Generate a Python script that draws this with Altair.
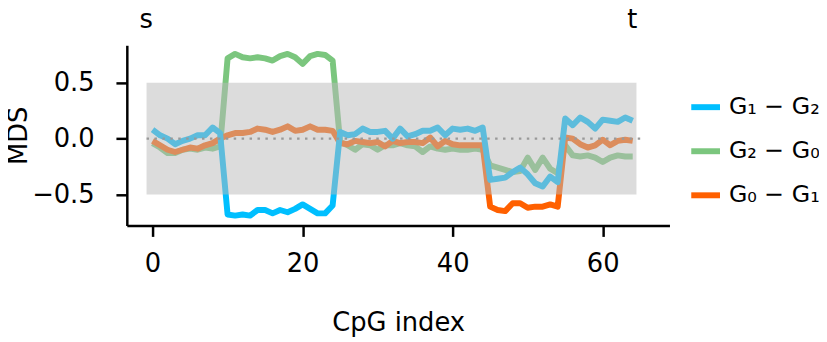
import altair as alt
import pandas as pd

cpg_index = list(range(65))

g1_g2 = [0.08, 0.03, 0.00, -0.05, -0.02, 0.00, 0.03, 0.03, 0.10, 0.05,
         -0.68, -0.69, -0.68, -0.69, -0.64, -0.64, -0.67, -0.64, -0.66, -0.63,
         -0.59, -0.63, -0.67, -0.67, -0.60,
         0.06, 0.03, 0.04, 0.09, 0.06, 0.06, 0.07, 0.00, 0.09, 0.02,
         0.04, 0.07, 0.07, 0.10, 0.03, 0.09, 0.08, 0.09, 0.07, 0.10,
         -0.37, -0.36, -0.35, -0.30, -0.26, -0.32, -0.40, -0.43, -0.34, -0.39,
         0.18, 0.12, 0.19, 0.15, 0.09, 0.17, 0.16, 0.15, 0.19, 0.16]

g2_g0 = [-0.04, -0.08, -0.13, -0.13, -0.10, -0.09, -0.10, -0.08, -0.09, -0.07,
         0.72, 0.76, 0.73, 0.72, 0.73, 0.72, 0.70, 0.74, 0.76, 0.73,
         0.67, 0.74, 0.76, 0.75, 0.70,
         -0.03, -0.06, -0.10, -0.05, -0.06, -0.10, -0.06, -0.06, -0.04, -0.06,
         -0.07, -0.12, -0.07, -0.09, -0.10, -0.09, -0.10, -0.10, -0.09, -0.10,
         -0.24, -0.26, -0.28, -0.30, -0.29, -0.17, -0.28, -0.17, -0.27, -0.31,
         -0.06, -0.15, -0.16, -0.15, -0.17, -0.21, -0.17, -0.15, -0.16, -0.16]

g0_g1 = [-0.02, -0.06, -0.10, -0.12, -0.10, -0.08, -0.09, -0.06, -0.04, 0.00,
         0.03, 0.05, 0.05, 0.06, 0.09, 0.08, 0.06, 0.08, 0.11, 0.07,
         0.08, 0.11, 0.08, 0.08, 0.07,
         -0.04, -0.05, -0.02, -0.03, -0.04, -0.03, -0.07, -0.02, -0.04, -0.03,
         -0.03, -0.04, 0.01, -0.07, -0.02, -0.05, -0.06, -0.06, -0.06, -0.06,
         -0.61, -0.64, -0.65, -0.58, -0.58, -0.62, -0.61, -0.61, -0.59, -0.61,
         0.01, 0.00, -0.05, -0.08, -0.06, -0.01, -0.06, -0.02, -0.01, -0.02]

series_names = ["G\u2081 \u2212 G\u2082", "G\u2082 \u2212 G\u2080", "G\u2080 \u2212 G\u2081"]
series_colors = ["#00BFFF", "#7BC67E", "#FF6000"]
draw_order = [1, 2, 0]

band_y = [-0.5, 0.5]
band_x = [-0.8, 64.5]
zero_line_x = [-0.8, 65.0]
x_ticks = [0, 20, 40, 60]
y_ticks = [-0.5, 0.0, 0.5]
end_labels = ["s", "t"]
end_label_x = [-0.85, 63.95]

FONT = "DejaVu Sans"

rows = []
for name, vals in zip(series_names, [g1_g2, g2_g0, g0_g1]):
    for i, v in zip(cpg_index, vals):
        rows.append({"CpG": i, "MDS": v, "pair": name})
df = pd.DataFrame(rows)

x_scale = alt.Scale(domain=[-3.43, 68.9], nice=False, zero=False)
y_scale = alt.Scale(domain=[-0.779, 0.837], nice=False, zero=False)
color_scale = alt.Scale(domain=series_names, range=series_colors)

x_axis = alt.Axis(values=x_ticks, format="d", title="CpG index", grid=False,
                  labelFont=FONT, labelFontSize=26, labelColor="black",
                  titleFont=FONT, titleFontSize=26, titleFontWeight="normal",
                  titleColor="black", titlePadding=34,
                  tickSize=11, tickWidth=2.5, tickColor="black",
                  domainWidth=2.5, domainColor="black", labelPadding=14)
y_axis = alt.Axis(values=y_ticks, format=".1f", title="MDS", grid=False,
                  labelFont=FONT, labelFontSize=26, labelColor="black",
                  titleFont=FONT, titleFontSize=26, titleFontWeight="normal",
                  titleColor="black", titlePadding=0,
                  tickSize=11, tickWidth=2.5, tickColor="black",
                  domainWidth=2.5, domainColor="black", labelPadding=22)
legend = alt.Legend(title=None, orient="none", legendX=567, legendY=45,
                    symbolType="stroke", symbolSize=841, symbolStrokeWidth=6,
                    labelFont=FONT, labelFontSize=24, labelColor="black",
                    labelOffset=6, rowPadding=14.5, padding=0, symbolOpacity=1)

X = alt.X("CpG:Q", scale=x_scale, axis=x_axis)
Y = alt.Y("MDS:Q", scale=y_scale, axis=y_axis)

layers = []
for k in draw_order:
    name = series_names[k]
    layers.append(
        alt.Chart(df).transform_filter(alt.datum.pair == name)
        .mark_line(strokeWidth=6, strokeJoin="round", strokeCap="butt")
        .encode(
            x=X, y=Y,
            color=alt.Color("pair:N", scale=color_scale, legend=legend),
        )
    )

band_df = pd.DataFrame({"CpG": [band_x[0]], "CpG2": [band_x[1]],
                        "MDS": [band_y[0]], "MDS2": [band_y[1]]})
band = alt.Chart(band_df).mark_rect(color="#b9b9b9", opacity=0.5).encode(
    x=X, x2="CpG2:Q", y=Y, y2="MDS2:Q")

zero_df = pd.DataFrame({"CpG": [zero_line_x[0]], "CpG2": [zero_line_x[1]], "MDS": [0.0]})
zero_rule = alt.Chart(zero_df).mark_rule(color="#999999", strokeWidth=2.5,
                                         strokeDash=[2.5, 5.5]).encode(
    x=X, x2="CpG2:Q", y=Y)

lab_df = pd.DataFrame({"CpG": end_label_x, "t": end_labels})
end_text = alt.Chart(lab_df).mark_text(font=FONT, fontSize=26, baseline="alphabetic",
                                       align="center", color="black").encode(
    x=X, y=alt.value(-17), text="t:N")

chart = alt.layer(*layers, band, zero_rule, end_text).properties(
    width=548, height=182,
    autosize=alt.AutoSizeParams(type="none"),
    padding={"left": 120, "top": 36, "right": 151, "bottom": 116},
).configure_view(stroke=None)

chart.save("out.html", embed_options={"renderer": "svg", "actions": False})
